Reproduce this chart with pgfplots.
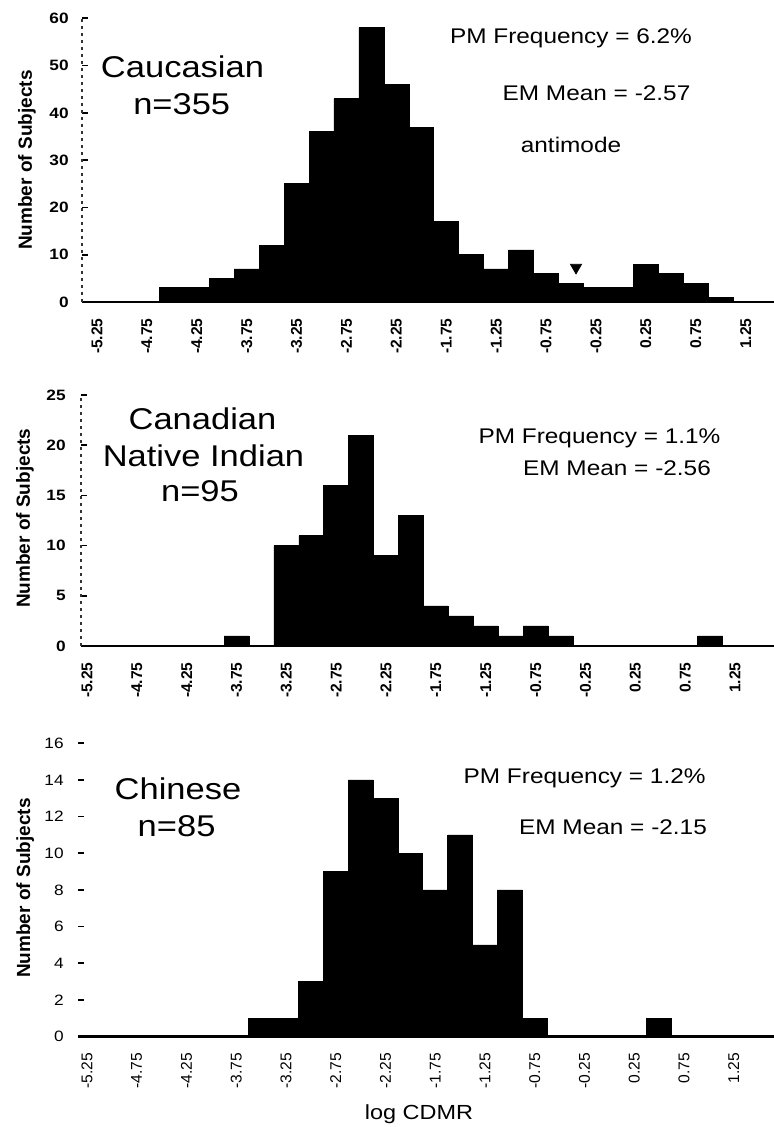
\documentclass[border=0pt]{standalone}
\usepackage{fontspec}
\setmainfont{Liberation Sans}
\newfontfamily\hfont[FakeStretch=1.15]{Liberation Sans}
\usepackage{pgfplots}
\pgfplotsset{compat=1.18}
\pgfplotsset{
  hist/.style={
    scale only axis, axis lines*=left, anchor=south west, ymin=0,
    xtick={-5.25,-4.75,-4.25,-3.75,-3.25,-2.75,-2.25,-1.75,-1.25,-0.75,-0.25,0.25,0.75,1.25},
    xticklabels={-5.25,-4.75,-4.25,-3.75,-3.25,-2.75,-2.25,-1.75,-1.25,-0.75,-0.25,0.25,0.75,1.25},
    xtick style={draw=none},
    ytick style={line width=0.8pt,black},
    tick align=inside, major tick length=3pt,
    x axis line style={line width=1.2pt},
    y axis line style={dash pattern=on 1.5pt off 2pt,line width=0.6pt,black!80},
    xticklabel style={rotate=90,anchor=east,inner sep=0pt},
    xticklabel shift=8pt,
    yticklabel style={inner sep=0pt},
    ylabel={Number of Subjects},
    ylabel style={anchor=center,font=\fontsize{9.5}{11}\selectfont\bfseries},
  },
  bars/.style={ybar, bar width=0.25, fill=black, draw=black, line width=0.3pt},
}
\begin{document}
\begin{tikzpicture}
\path[use as bounding box] (0,0) rectangle (387pt,563.5pt);
% Panel 1: Caucasian
\begin{axis}[hist, at={(41pt,412.5pt)}, width=346pt, height=141.85pt,
  xmin=-5.40, xmax=1.534, ymax=60,
  ytick={0,10,20,30,40,50,60}, yticklabels={0,10,20,30,40,50,60},
  yticklabel style={xshift=-6.5pt,font=\hfont\bfseries\fontsize{7.5}{8}\selectfont},
  xticklabel style={font=\bfseries\fontsize{7.8}{8}\selectfont},
  ylabel style={at={(axis description cs:-0.0795,0.5)}}]
\addplot[bars] coordinates {(-4.5,3) (-4.25,3) (-4.0,5) (-3.75,7) (-3.5,12) (-3.25,25) (-3.0,36) (-2.75,43) (-2.5,58) (-2.25,46) (-2.0,37) (-1.75,17) (-1.5,10) (-1.25,7) (-1.0,11) (-0.75,6) (-0.5,4) (-0.25,3) (0.0,3) (0.25,8) (0.5,6) (0.75,4) (1.0,1)};
\addplot[only marks, mark=triangle*, mark size=3.2pt, mark options={rotate=180,fill=black,draw=black}] coordinates {(-0.45,7.3)};
\end{axis}
% Panel 2: Canadian Native Indian
\begin{axis}[hist, at={(40.5pt,240.5pt)}, width=346.5pt, height=125.5pt,
  xmin=-5.31, xmax=1.641, ymax=25,
  ytick={0,5,10,15,20,25}, yticklabels={0,5,10,15,20,25},
  yticklabel style={xshift=-7.5pt,font=\hfont\bfseries\fontsize{7.5}{8}\selectfont},
  xticklabel style={font=\bfseries\fontsize{7.8}{8}\selectfont},
  ylabel style={at={(axis description cs:-0.081,0.509)}}]
\addplot[bars] coordinates {(-3.75,1) (-3.25,10) (-3.0,11) (-2.75,16) (-2.5,21) (-2.25,9) (-2.0,13) (-1.75,4) (-1.5,3) (-1.25,2) (-1.0,1) (-0.75,2) (-0.5,1) (1.0,1)};
\end{axis}
% Panel 3: Chinese
\begin{axis}[hist, at={(39pt,45.25pt)}, width=348pt, height=146.6pt,
  xmin=-5.34, xmax=1.655, ymax=16,
  y axis line style={draw=none},
  ytick={0,2,4,6,8,10,12,14,16}, yticklabels={0,2,4,6,8,10,12,14,16},
  yticklabel style={xshift=-7pt,font=\hfont\fontsize{7.5}{8}\selectfont},
  xticklabel style={font=\fontsize{7.8}{8}\selectfont},
  ylabel style={at={(axis description cs:-0.076,0.506)}}]
\addplot[bars] coordinates {(-3.5,1) (-3.25,1) (-3.0,3) (-2.75,9) (-2.5,14) (-2.25,13) (-2.0,10) (-1.75,8) (-1.5,11) (-1.25,5) (-1.0,8) (-0.75,1) (0.5,1)};
\end{axis}
% Texts
\begin{scope}[every node/.style={anchor=base,inner sep=0pt}]
\node[font=\hfont\fontsize{15}{18}\selectfont] at (91.25pt,524.5pt) {Caucasian};
\node[font=\hfont\fontsize{15}{18}\selectfont] at (90.85pt,506pt) {n=355};
\node[font=\hfont\fontsize{10.6}{12}\selectfont] at (285.5pt,541.5pt) {PM Frequency = 6.2\%};
\node[font=\hfont\fontsize{10.6}{12}\selectfont] at (298.25pt,513pt) {EM Mean = -2.57};
\node[font=\hfont\fontsize{10.6}{12}\selectfont] at (285.5pt,487pt) {antimode};
\node[font=\hfont\fontsize{15}{18}\selectfont] at (101.25pt,348.5pt) {Canadian};
\node[font=\hfont\fontsize{15}{18}\selectfont] at (101.75pt,330.15pt) {Native Indian};
\node[font=\hfont\fontsize{15}{18}\selectfont] at (100pt,312.65pt) {n=95};
\node[font=\hfont\fontsize{10.6}{12}\selectfont] at (299.75pt,341.5pt) {PM Frequency = 1.1\%};
\node[font=\hfont\fontsize{10.6}{12}\selectfont] at (308.5pt,325.65pt) {EM Mean = -2.56};
\node[font=\hfont\fontsize{15}{18}\selectfont] at (89pt,163.5pt) {Chinese};
\node[font=\hfont\fontsize{15}{18}\selectfont] at (88.3pt,145.15pt) {n=85};
\node[font=\hfont\fontsize{10.6}{12}\selectfont] at (292.3pt,171.85pt) {PM Frequency = 1.2\%};
\node[font=\hfont\fontsize{10.6}{12}\selectfont] at (306.5pt,146pt) {EM Mean = -2.15};
\node[font=\hfont\fontsize{10.2}{12}\selectfont] at (209.5pt,3.85pt) {log CDMR};
\end{scope}
\end{tikzpicture}
\end{document}
